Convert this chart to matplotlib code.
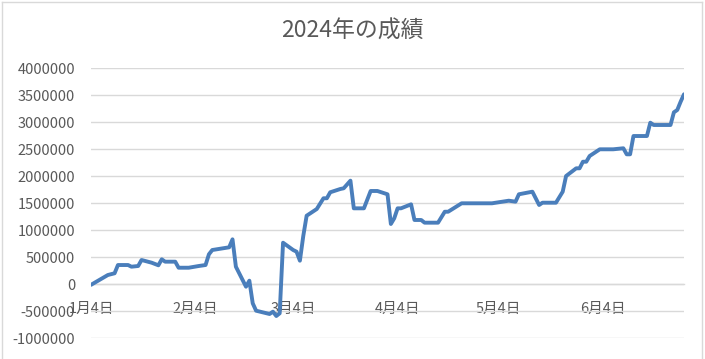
import matplotlib
matplotlib.use("Agg")
import matplotlib.pyplot as plt
from matplotlib.lines import Line2D
import pandas as pd

plt.rcParams['font.family'] = ['Noto Sans CJK JP', 'DejaVu Sans']

# ---- data ----
dates = [
    "2024-01-04", "2024-01-09", "2024-01-11", "2024-01-12", "2024-01-15",
    "2024-01-16", "2024-01-18", "2024-01-19", "2024-01-22", "2024-01-24",
    "2024-01-25", "2024-01-26", "2024-01-29", "2024-01-30", "2024-02-02",
    "2024-02-05", "2024-02-07", "2024-02-08", "2024-02-09", "2024-02-14",
    "2024-02-15", "2024-02-16", "2024-02-19", "2024-02-20", "2024-02-21",
    "2024-02-22", "2024-02-26", "2024-02-27", "2024-02-28", "2024-02-29",
    "2024-03-01", "2024-03-04", "2024-03-05", "2024-03-06", "2024-03-07",
    "2024-03-08", "2024-03-11", "2024-03-13", "2024-03-14", "2024-03-15",
    "2024-03-18", "2024-03-19", "2024-03-21", "2024-03-22", "2024-03-25",
    "2024-03-27", "2024-03-29", "2024-04-01", "2024-04-02", "2024-04-03",
    "2024-04-04", "2024-04-05", "2024-04-08", "2024-04-09", "2024-04-11",
    "2024-04-12", "2024-04-16", "2024-04-18", "2024-04-19", "2024-04-23",
    "2024-05-02", "2024-05-07", "2024-05-09", "2024-05-10", "2024-05-14",
    "2024-05-16", "2024-05-17", "2024-05-21", "2024-05-23", "2024-05-24",
    "2024-05-27", "2024-05-28", "2024-05-29", "2024-05-30", "2024-05-31",
    "2024-06-03", "2024-06-07", "2024-06-10", "2024-06-11", "2024-06-12",
    "2024-06-13", "2024-06-17", "2024-06-18", "2024-06-19", "2024-06-24",
    "2024-06-25", "2024-06-26", "2024-06-27", "2024-06-28",
]
profit = [
    -10000, 172000, 204000, 357000, 357000,
    326000, 339000, 450000, 400000, 352000,
    463000, 419000, 419000, 307000, 307000,
    339000, 357000, 556000, 635000, 685000,
    833000, 326000, -44000, 67000, -352000,
    -489000, -550000, -507000, -587000, -537000,
    770000, 635000, 604000, 437000, 894000,
    1270000, 1394000, 1593000, 1593000, 1704000,
    1765000, 1778000, 1919000, 1407000, 1407000,
    1728000, 1728000, 1667000, 1117000, 1222000,
    1407000, 1407000, 1481000, 1191000, 1191000,
    1141000, 1141000, 1344000, 1344000, 1500000,
    1500000, 1548000, 1530000, 1667000, 1715000,
    1469000, 1511000, 1511000, 1715000, 2005000,
    2148000, 2148000, 2270000, 2270000, 2376000,
    2500000, 2500000, 2519000, 2407000, 2407000,
    2746000, 2746000, 2993000, 2950000, 2950000,
    3185000, 3228000, 3381000, 3519000,
]
tick_dates = ["2024-01-04", "2024-02-04", "2024-03-04",
              "2024-04-04", "2024-05-04", "2024-06-04"]
tick_labels = ["1月4日", "2月4日", "3月4日", "4月4日", "5月4日", "6月4日"]
y_ticks = [-1000000, -500000, 0, 500000, 1000000, 1500000,
           2000000, 2500000, 3000000, 3500000, 4000000]

x = pd.to_datetime(dates)
text_col = "#595959"
grid_col = "#D9D9D9"

fig = plt.figure(figsize=(7.05, 3.59), dpi=100)
ax = fig.add_axes([91 / 705, 1 - 338.3 / 359, 593 / 705, 270 / 359])

ax.plot(x, profit, color="#4A7EBB", lw=2.8, solid_joinstyle="round",
        solid_capstyle="round", zorder=3)

ax.set_xlim(x[0], x[-1])
ax.set_ylim(-1000000, 4000000)
ax.set_yticks(y_ticks)
ax.set_yticklabels([str(v) for v in y_ticks])
ax.yaxis.grid(True, color=grid_col, lw=1.0)
ax.set_axisbelow(True)

ax.set_xticks(pd.to_datetime(tick_dates))
ax.set_xticklabels(tick_labels)

for s in ["top", "right", "left"]:
    ax.spines[s].set_visible(False)
ax.spines["bottom"].set_position(("data", 0))
ax.spines["bottom"].set_color(grid_col)
ax.spines["bottom"].set_linewidth(1.0)

ax.tick_params(axis="y", length=0, pad=11.5, labelsize=10.5, labelcolor=text_col)
ax.tick_params(axis="x", length=0, pad=12.5, labelsize=10.5, labelcolor=text_col)

fig.text(352 / 705, 1 - 31 / 359, "2024年の成績", ha="center", va="center",
         fontsize=16.5, color=text_col)

# chart area border
b = dict(color="#D9D9D9", lw=1.0, transform=fig.transFigure)
fig.add_artist(Line2D([2 / 705, 2 / 705], [0, 1 - 1.5 / 359], **b))
fig.add_artist(Line2D([701.5 / 705, 701.5 / 705], [0, 1 - 1.5 / 359], **b))
fig.add_artist(Line2D([2 / 705, 701.5 / 705], [1 - 1.5 / 359, 1 - 1.5 / 359], **b))

fig.savefig("out.png", dpi=100)
